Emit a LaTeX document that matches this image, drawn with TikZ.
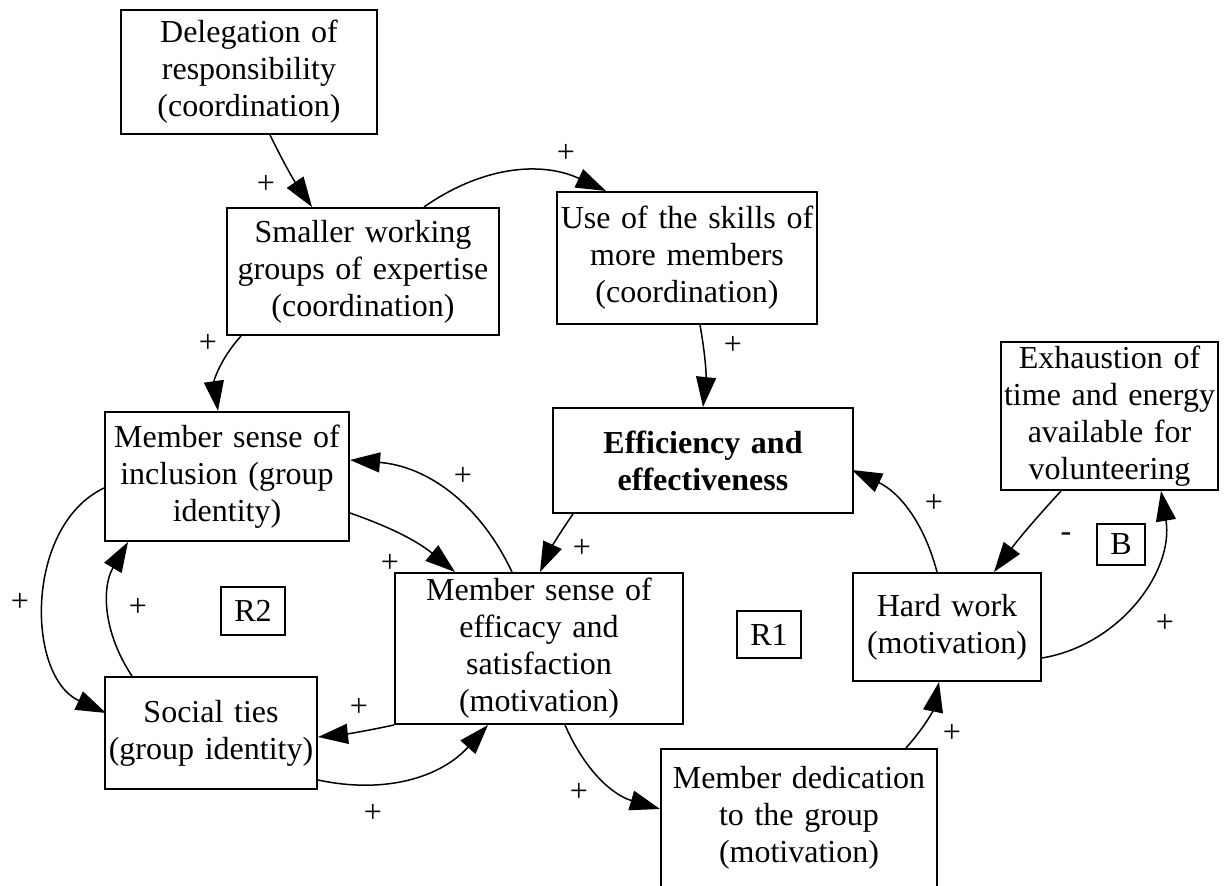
\documentclass[tikz,border=0pt]{standalone}
\usepackage{fontspec}
\setmainfont{Liberation Serif}
\usetikzlibrary{arrows.meta,calc}
\tikzset{
	var/.style={draw, line width=1pt, inner sep=0pt, align=center},
	loopid/.style={draw, line width=0.8pt, inner sep=0pt},
	link/.style={-{Triangle[length=15pt,width=10pt]}, line width=0.75pt},
	sign/.style={inner sep=0pt}
}
\begin{document}
\begin{tikzpicture}[x=0.5pt, y=-0.5pt, font=\fontsize{16}{18.5}\selectfont]

	\useasboundingbox (0,0) rectangle (1225,886);

	% coordination
	\node[var, text width=128pt, minimum height=62pt] (deleg) at (249,72) {Delegation of\\responsibility\\(coordination)};
	\node[var, text width=136pt, minimum height=63.5pt] (smaller) at (363,271.5) {Smaller working\\groups of expertise\\(coordination)};
	\node[var, text width=130pt, minimum height=66pt] (skills) at (687,258) {Use of the skills of\\more members\\(coordination)};

	% outcome
	\node[var, text width=150pt, minimum height=52.5pt, font=\fontsize{16}{18.5}\selectfont\bfseries] (effic) at (703,460.5) {Efficiency and\\effectiveness};
	\node[var, text width=108.5pt, minimum height=74pt] (exhaust) at (1109.5,416) {Exhaustion of\\time and energy\\available for\\volunteering};

	% group identity
	\node[var, text width=122pt, minimum height=64.5pt] (incl) at (227,476.5) {Member sense of\\inclusion (group\\identity)};
	\node[var, text width=106pt, minimum height=56pt] (social) at (211,733) {Social ties\\(group identity)};

	% motivation
	\node[var, text width=144pt, minimum height=75.5pt] (efficacy) at (539,648.5) {Member sense of\\efficacy and\\satisfaction\\(motivation)};
	\node[var, text width=94pt, minimum height=54pt] (hard) at (947,627) {Hard work\\(motivation)};
	\node[var, text width=138pt, minimum height=69pt] (dedic) at (799,818) {Member dedication\\to the group\\(motivation)};

	% loop names
	\node[loopid, minimum width=32pt, minimum height=24pt] (R2) at (253,611) {R2};
	\node[loopid, minimum width=32pt, minimum height=23.5pt] (R1) at (769,634.5) {R1};
	\node[loopid, minimum width=24pt, minimum height=20.5pt] (B) at (1121,544.5) {B};

	% links
	\draw[link] ($(deleg.south)+(21,0)$) to[bend right=4] ($(smaller.north)+(-51,0)$);
	\draw[link] ($(smaller.north)+(61,0)$) to[bend left=30] ($(skills.north)+(-81,0)$);
	\draw[link] ($(skills.south)+(13,0)$) to[bend left=8] (effic.north);
	\draw[link] ($(smaller.south)+(-122,0)$) to[bend right=25] ($(incl.north)+(-9,0)$);
	\draw[link] ($(incl.east)+(0,36.5)$) to[bend left=10] ($(efficacy.north)+(-84,0)$);
	\draw[link] ($(efficacy.north)+(-27,0)$) to[bend right=30] ($(incl.east)+(0,-16.5)$);
	\draw[link] ($(effic.south)+(-130,0)$) to[bend right=5] ($(efficacy.north)+(1,0)$);
	\draw[link] ($(incl.west)+(0,11.5)$) to[bend right=65] ($(social.west)+(2,-20)$);
	\draw[link] ($(social.north)+(-79,0)$) to[bend left=32] ($(incl.south)+(-99,0)$);
	\draw[link] (efficacy.south west) to[bend left=3] ($(social.east)+(0,4)$);
	\draw[link] ($(social.east)+(0,47)$) to[bend right=30] ($(efficacy.south)+(-51,0)$);
	\draw[link] ($(efficacy.south)+(26,0)$) to[bend right=25] ($(dedic.west)+(0,-9)$);
	\draw[link] ($(dedic.north)+(107,0)$) to[bend right=15] ($(hard.south)+(-8,0)$);
	\draw[link] ($(hard.east)+(0,31)$) to[bend right=45] ($(exhaust.south)+(51.5,0)$);
	\draw[link] ($(exhaust.south)+(-48.5,0)$) to[bend right=3] ($(hard.north)+(47,0)$);
	\draw[link] ($(hard.north)+(-10,0)$) to[bend right=25] ($(effic.east)+(-2,9.5)$);

	% polarities
	\foreach \x/\y [count=\i] in {266/184, 566/153, 733/345, 208/343, 390/563, 463/476, 582/548, 20/602, 138/607, 359/707, 373/813, 579/792, 952/733, 1165/623, 934/503}
		\node[sign] (plus\i) at (\x,\y) {+};
	\node[sign] (minus) at (1066,537) {-};

\end{tikzpicture}
\end{document}
